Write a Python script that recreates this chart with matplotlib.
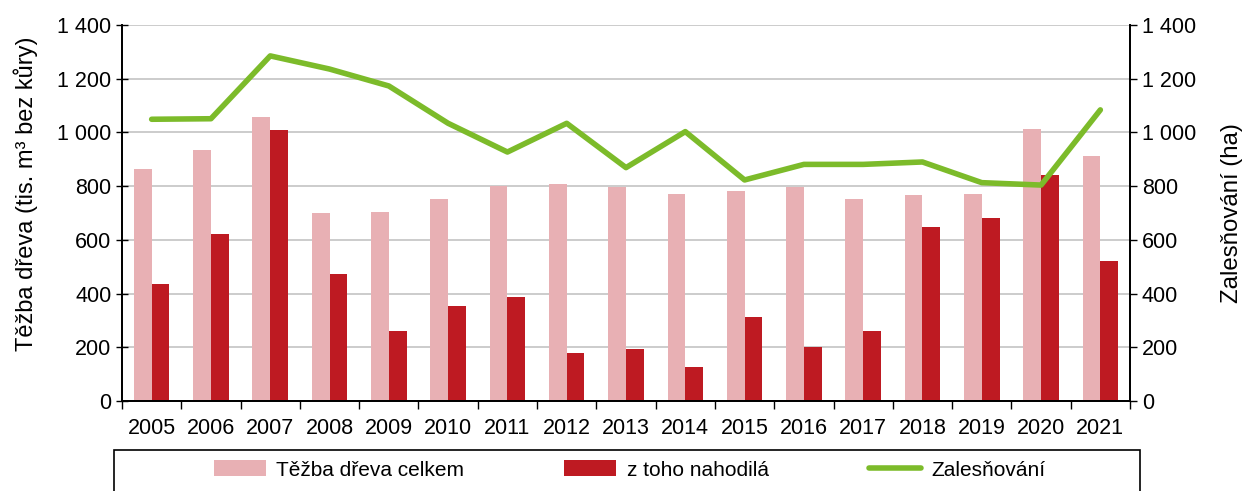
import matplotlib.pyplot as plt
import matplotlib.ticker as mticker
from matplotlib.patches import Rectangle
import numpy as np

plt.rcParams['font.family'] = ['Liberation Sans', 'DejaVu Sans']
plt.rcParams['font.size'] = 15

years = ["2005", "2006", "2007", "2008", "2009", "2010", "2011", "2012", "2013",
         "2014", "2015", "2016", "2017", "2018", "2019", "2020", "2021"]
tezba_celkem = [864, 935, 1059, 700, 704, 752, 799, 808, 798, 772, 781, 797, 751, 766, 772, 1014, 913]
nahodila = [434, 621, 1008, 474, 259, 353, 386, 180, 194, 125, 313, 200, 259, 649, 683, 843, 522]
zalesnovani = [1049, 1051, 1285, 1236, 1173, 1034, 927, 1034, 869, 1003, 823, 881, 881, 890, 813, 804, 1084]

pink = "#E8B0B4"
red = "#BE1A22"
green = "#7CBB2A"

fig = plt.figure(figsize=(12.43, 4.91), dpi=100)
ax = fig.add_axes([122 / 1243, 1 - 401 / 491, (1130 - 122) / 1243, (401 - 25) / 491])
ax2 = ax.twinx()

x = np.arange(len(years))
w = 0.3
b1 = ax.bar(x - w / 2, tezba_celkem, width=w, color=pink, zorder=2, label="Těžba dřeva celkem")
b2 = ax.bar(x + w / 2, nahodila, width=w, color=red, zorder=2, label="z toho nahodilá")
ln, = ax2.plot(x, zalesnovani, color=green, lw=4, solid_capstyle='round', label="Zalesňování")

fmt = mticker.FuncFormatter(lambda v, p: f"{int(v):,}".replace(",", " "))
for a in (ax, ax2):
    a.set_ylim(0, 1400)
    a.set_yticks(range(0, 1401, 200))
    a.yaxis.set_major_formatter(fmt)
    a.tick_params(axis='y', length=5, width=1, labelsize=15.5)
    for s in a.spines.values():
        s.set_linewidth(1.3)
    a.spines['top'].set_visible(False)

ax.set_xlim(-0.5, len(years) - 0.5)
ax.set_xticks(x)
ax.set_xticklabels(years, fontsize=15.5)
ax.set_xticks(np.arange(-0.5, len(years), 1), minor=True)
ax.tick_params(axis='x', which='major', length=0, pad=12)
ax.tick_params(axis='x', which='minor', length=6, width=1)
ax.tick_params(axis='y', direction='inout', length=8)

ax.grid(axis='y', color='#C8C8C8', lw=1.3, zorder=0)
ax.set_axisbelow(True)

ax.set_ylabel("Těžba dřeva (tis. m³ bez kůry)", fontsize=17, labelpad=14)
ax.yaxis.label.set_y(0.55)
ax2.set_ylabel("Zalesňování (ha)", fontsize=17.3, labelpad=18)

# legend box running off the bottom of the figure
fig.patches.append(Rectangle((114 / 1243, -0.05), (1140 - 114) / 1243, 1 - 450 / 491 + 0.05,
                             transform=fig.transFigure, fill=False, edgecolor='black', lw=1.2))
fig.legend(handles=[b1, b2, ln], loc='center left', bbox_to_anchor=(195 / 1243, 1 - 470 / 491),
           ncol=3, frameon=False, fontsize=15, handlelength=2.5, handleheight=0.8,
           columnspacing=4.8, handletextpad=0.5)

fig.savefig("out.png", dpi=100)
